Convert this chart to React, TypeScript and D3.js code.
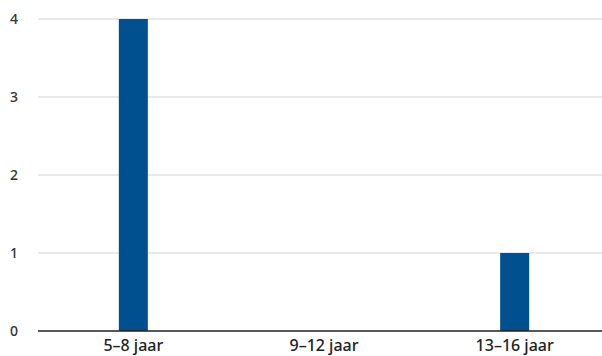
import React from "react";
import * as d3 from "d3";

const categories = ["5–8 jaar", "9–12 jaar", "13–16 jaar"];
const values = [4, 0, 1];
const yTicks = [0, 1, 2, 3, 4];

export default function App() {
  const W = 602, H = 356;
  const x = d3.scaleBand<string>().domain(categories).range([38, 610]).padding(0);
  const y = d3.scaleLinear().domain([0, 4]).range([331, 19]);
  const bw = 29;
  const cx = (c: string) => x(c)! + x.bandwidth() / 2;
  return (
    <svg width={W} height={H} style={{ position: "absolute", left: 0, top: 0, background: "#fff" }}
      fontFamily="'Noto Sans', Lato, sans-serif">
      {yTicks.map((t) => (
        <g key={t}>
          {t > 0 && <line x1={38} x2={W} y1={y(t)} y2={y(t)} stroke="#e2e2e2" strokeWidth={1.5} />}
          <text x={14} y={y(t)} dy="0.35em" textAnchor="middle" fontSize={14} fontWeight={500} fill="#333">{t}</text>
        </g>
      ))}
      {categories.map((c, i) => (
        <rect key={c} x={cx(c) - bw / 2} width={bw} y={y(values[i])} height={y(0) - y(values[i])} fill="#00508f" />
      ))}
      <line x1={38} x2={W} y1={y(0)} y2={y(0)} stroke="#222" strokeWidth={1.5} />
      {categories.map((c) => (
        <text key={c} x={cx(c)} y={351} textAnchor="middle" fontSize={16} fontWeight={500} fill="#222">{c}</text>
      ))}
    </svg>
  );
}
